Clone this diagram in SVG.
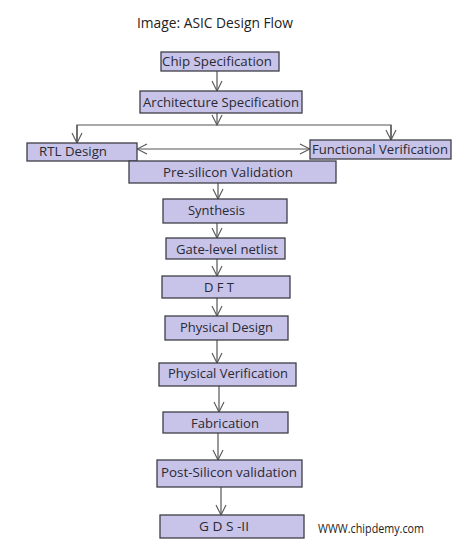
<svg xmlns="http://www.w3.org/2000/svg" width="474" height="544" viewBox="0 0 474 544">
<style>
.box{fill:#c8c3e8;stroke:#3e3e48;stroke-width:1.3}
.t{font-family:"Open Sans","Noto Sans",sans-serif;font-size:13.5px;fill:#2a2a33;text-anchor:start}
.c{fill:none;stroke:#555;stroke-width:1.2}
</style>
<defs>
<marker id="ah" viewBox="0 0 12 12" refX="11" refY="6" markerWidth="12" markerHeight="12" markerUnits="userSpaceOnUse" orient="auto-start-reverse">
<path d="M1,1 L11,6 L1,11" fill="none" stroke="#555" stroke-width="1.1"/>
</marker>
</defs>
<rect width="474" height="544" fill="#fff"/>
<text x="137" y="28" font-family="'Open Sans','Noto Sans',sans-serif" font-size="15" fill="#222" textLength="156" lengthAdjust="spacingAndGlyphs">Image: ASIC Design Flow</text>
<g id="connectors">
<line class="c" x1="217" y1="71" x2="217" y2="91" marker-end="url(#ah)"/>
<line class="c" x1="217" y1="113" x2="217" y2="125" marker-end="url(#ah)"/>
<polyline class="c" points="77,143 77,125 391,125 391,140"/>
<line class="c" x1="77" y1="125" x2="77" y2="143" marker-end="url(#ah)"/>
<line class="c" x1="391" y1="125" x2="391" y2="140" marker-end="url(#ah)"/>
<line class="c" x1="137" y1="149" x2="310" y2="149" marker-start="url(#ah)" marker-end="url(#ah)"/>
<line class="c" x1="218" y1="183" x2="218" y2="199" marker-end="url(#ah)"/>
<line class="c" x1="217" y1="223" x2="217" y2="238" marker-end="url(#ah)"/>
<line class="c" x1="217" y1="259" x2="217" y2="276" marker-end="url(#ah)"/>
<line class="c" x1="217" y1="298" x2="217" y2="316" marker-end="url(#ah)"/>
<line class="c" x1="217" y1="340" x2="217" y2="363" marker-end="url(#ah)"/>
<line class="c" x1="219" y1="386" x2="219" y2="412" marker-end="url(#ah)"/>
<line class="c" x1="218" y1="433" x2="218" y2="460" marker-end="url(#ah)"/>
<line class="c" x1="221" y1="487" x2="221" y2="515" marker-end="url(#ah)"/>
</g>
<g id="chip-spec"><rect class="box" x="161" y="52" width="118" height="19"/><text class="t" x="162" y="66" textLength="110" lengthAdjust="spacingAndGlyphs">Chip Specification</text></g>
<g id="arch-spec"><rect class="box" x="140" y="91" width="162" height="22"/><text class="t" x="143" y="107" textLength="156" lengthAdjust="spacingAndGlyphs">Architecture Specification</text></g>
<g id="rtl-design"><rect class="box" x="27" y="143" width="110" height="18"/><text class="t" x="39" y="156" textLength="68" lengthAdjust="spacingAndGlyphs">RTL Design</text></g>
<g id="func-verif"><rect class="box" x="310" y="140" width="141" height="19"/><text class="t" x="312" y="154" textLength="136" lengthAdjust="spacingAndGlyphs">Functional Verification</text></g>
<g id="pre-silicon"><rect class="box" x="129" y="161" width="207" height="22"/><text class="t" x="163" y="177" textLength="130" lengthAdjust="spacingAndGlyphs">Pre-silicon Validation</text></g>
<g id="synthesis"><rect class="box" x="163" y="199" width="124" height="24"/><text class="t" x="188" y="215" textLength="57" lengthAdjust="spacingAndGlyphs">Synthesis</text></g>
<g id="gate-netlist"><rect class="box" x="166" y="238" width="119" height="21"/><text class="t" x="176" y="254" textLength="102" lengthAdjust="spacingAndGlyphs">Gate-level netlist</text></g>
<g id="dft"><rect class="box" x="162" y="276" width="128" height="22"/><text class="t" x="204" y="292" textLength="30" lengthAdjust="spacingAndGlyphs">D F T</text></g>
<g id="physical-design"><rect class="box" x="165" y="316" width="123" height="24"/><text class="t" x="180" y="332" textLength="93" lengthAdjust="spacingAndGlyphs">Physical Design</text></g>
<g id="physical-verif"><rect class="box" x="159" y="363" width="137" height="23"/><text class="t" x="168" y="378" textLength="120" lengthAdjust="spacingAndGlyphs">Physical Verification</text></g>
<g id="fabrication"><rect class="box" x="163" y="412" width="125" height="21"/><text class="t" x="191" y="428" textLength="68" lengthAdjust="spacingAndGlyphs">Fabrication</text></g>
<g id="post-silicon"><rect class="box" x="157" y="460" width="145" height="27"/><text class="t" x="161" y="477" textLength="136" lengthAdjust="spacingAndGlyphs">Post-Silicon validation</text></g>
<g id="gds"><rect class="box" x="160" y="515" width="144" height="23"/><text class="t" x="199" y="531" textLength="50" lengthAdjust="spacingAndGlyphs">G D S -II</text></g>
<text x="318" y="533" font-family="'Open Sans','Noto Sans',sans-serif" font-size="12" fill="#222" textLength="106" lengthAdjust="spacingAndGlyphs">WWW.chipdemy.com</text>
</svg>
